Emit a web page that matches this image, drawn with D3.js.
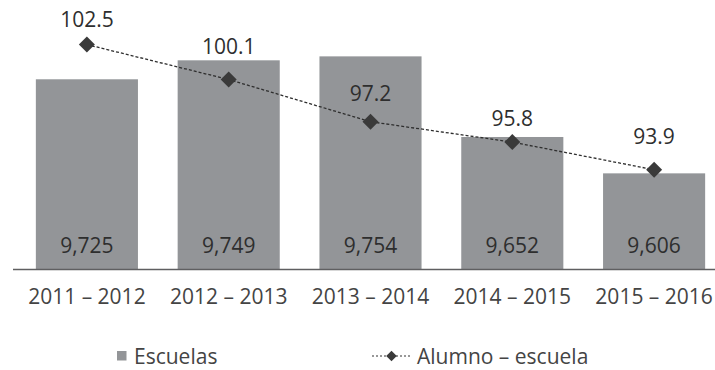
<!DOCTYPE html>
<html>
<head>
<meta charset="utf-8">
<script src="https://cdn.jsdelivr.net/npm/d3@7"></script>
<style>
  html, body { margin: 0; padding: 0; background: #fff; }
  svg { display: block; font-family: "Open Sans", sans-serif; }
</style>
</head>
<body>
<div id="chart"></div>
<script>
// School years
const ciclos = ["2011 – 2012", "2012 – 2013", "2013 – 2014", "2014 – 2015", "2015 – 2016"];
// Number of schools per year
const escuelas = [9725, 9749, 9754, 9652, 9606];
// Students per school
const alumnoEscuela = [102.5, 100.1, 97.2, 95.8, 93.9];
// Legend entries
const leyenda = ["Escuelas", "Alumno – escuela"];

const W = 715, H = 370;
const baseY = 269, topY = 20;
const barColor = "#939598", markColor = "#3a3a3a", textColor = "#2e2e2e";
const fontSize = 21;

// Vertical lift of each ratio label above its marker
const labelLift = [18, 26, 21, 16, 26];

const svg = d3.select("#chart").append("svg")
  .attr("width", W).attr("height", H);

const x = d3.scaleBand().domain(ciclos).range([16, 725])
  .paddingInner(0.28).paddingOuter(0.14);

// Bars use a truncated axis, the line its own scale
const yBar = d3.scaleLinear().domain([9485, 9800]).range([baseY, topY]);
const yLine = d3.scaleLinear().domain([87.08, 104.19]).range([baseY, topY]);

// Bars
svg.append("g").selectAll("rect").data(escuelas).join("rect")
  .attr("x", (d, i) => x(ciclos[i]))
  .attr("y", d => yBar(d))
  .attr("width", x.bandwidth())
  .attr("height", d => baseY - yBar(d))
  .attr("fill", barColor);

// Bar value labels
const fmt = d3.format(",");
svg.append("g").selectAll("text").data(escuelas).join("text")
  .attr("x", (d, i) => x(ciclos[i]) + x.bandwidth() / 2)
  .attr("y", 253)
  .attr("text-anchor", "middle")
  .attr("font-size", fontSize)
  .attr("fill", textColor)
  .text(d => fmt(d));

// Category axis
const axis = svg.append("g").attr("transform", `translate(0,${baseY})`)
  .call(d3.axisBottom(x).tickSize(0).tickPadding(0));
axis.select(".domain").attr("d", "M13,0.5H725").attr("stroke", "#5f5f61").attr("stroke-width", 1.6);
axis.selectAll("text")
  .attr("y", 35).attr("dy", 0)
  .attr("font-size", fontSize)
  .attr("font-family", "Open Sans, sans-serif")
  .attr("fill", "#444");

// Ratio line
const cx = (d, i) => x(ciclos[i]) + x.bandwidth() / 2;
const line = d3.line().x(cx).y(d => yLine(d));
svg.append("path").datum(alumnoEscuela)
  .attr("d", line)
  .attr("fill", "none")
  .attr("stroke", "#2e2e2e")
  .attr("stroke-width", 1.3)
  .attr("stroke-dasharray", "3,2");

const diamond = d3.symbol().type(d3.symbolSquare).size(128);
svg.append("g").selectAll("path").data(alumnoEscuela).join("path")
  .attr("d", diamond)
  .attr("transform", (d, i) => `translate(${cx(d, i)},${yLine(d)}) rotate(45)`)
  .attr("fill", markColor);

svg.append("g").selectAll("text").data(alumnoEscuela).join("text")
  .attr("x", cx)
  .attr("y", (d, i) => yLine(d) - labelLift[i])
  .attr("text-anchor", "middle")
  .attr("font-size", fontSize)
  .attr("fill", textColor)
  .text(d => d.toFixed(1));

// Legend
const lg = svg.append("g");
lg.append("rect").attr("x", 117).attr("y", 351).attr("width", 9.5).attr("height", 9.5).attr("fill", barColor);
lg.append("text").attr("x", 134).attr("y", 364)
  .attr("font-size", fontSize).attr("fill", "#444").text(leyenda[0]);

lg.append("line").attr("x1", 372).attr("x2", 411).attr("y1", 356).attr("y2", 356)
  .attr("stroke", "#333").attr("stroke-width", 1.2).attr("stroke-dasharray", "2,2");
lg.append("path").attr("d", d3.symbol().type(d3.symbolSquare).size(56))
  .attr("transform", "translate(391.5,356) rotate(45)").attr("fill", markColor);
lg.append("text").attr("x", 417).attr("y", 364)
  .attr("font-size", fontSize).attr("fill", "#444").text(leyenda[1]);
</script>
</body>
</html>
